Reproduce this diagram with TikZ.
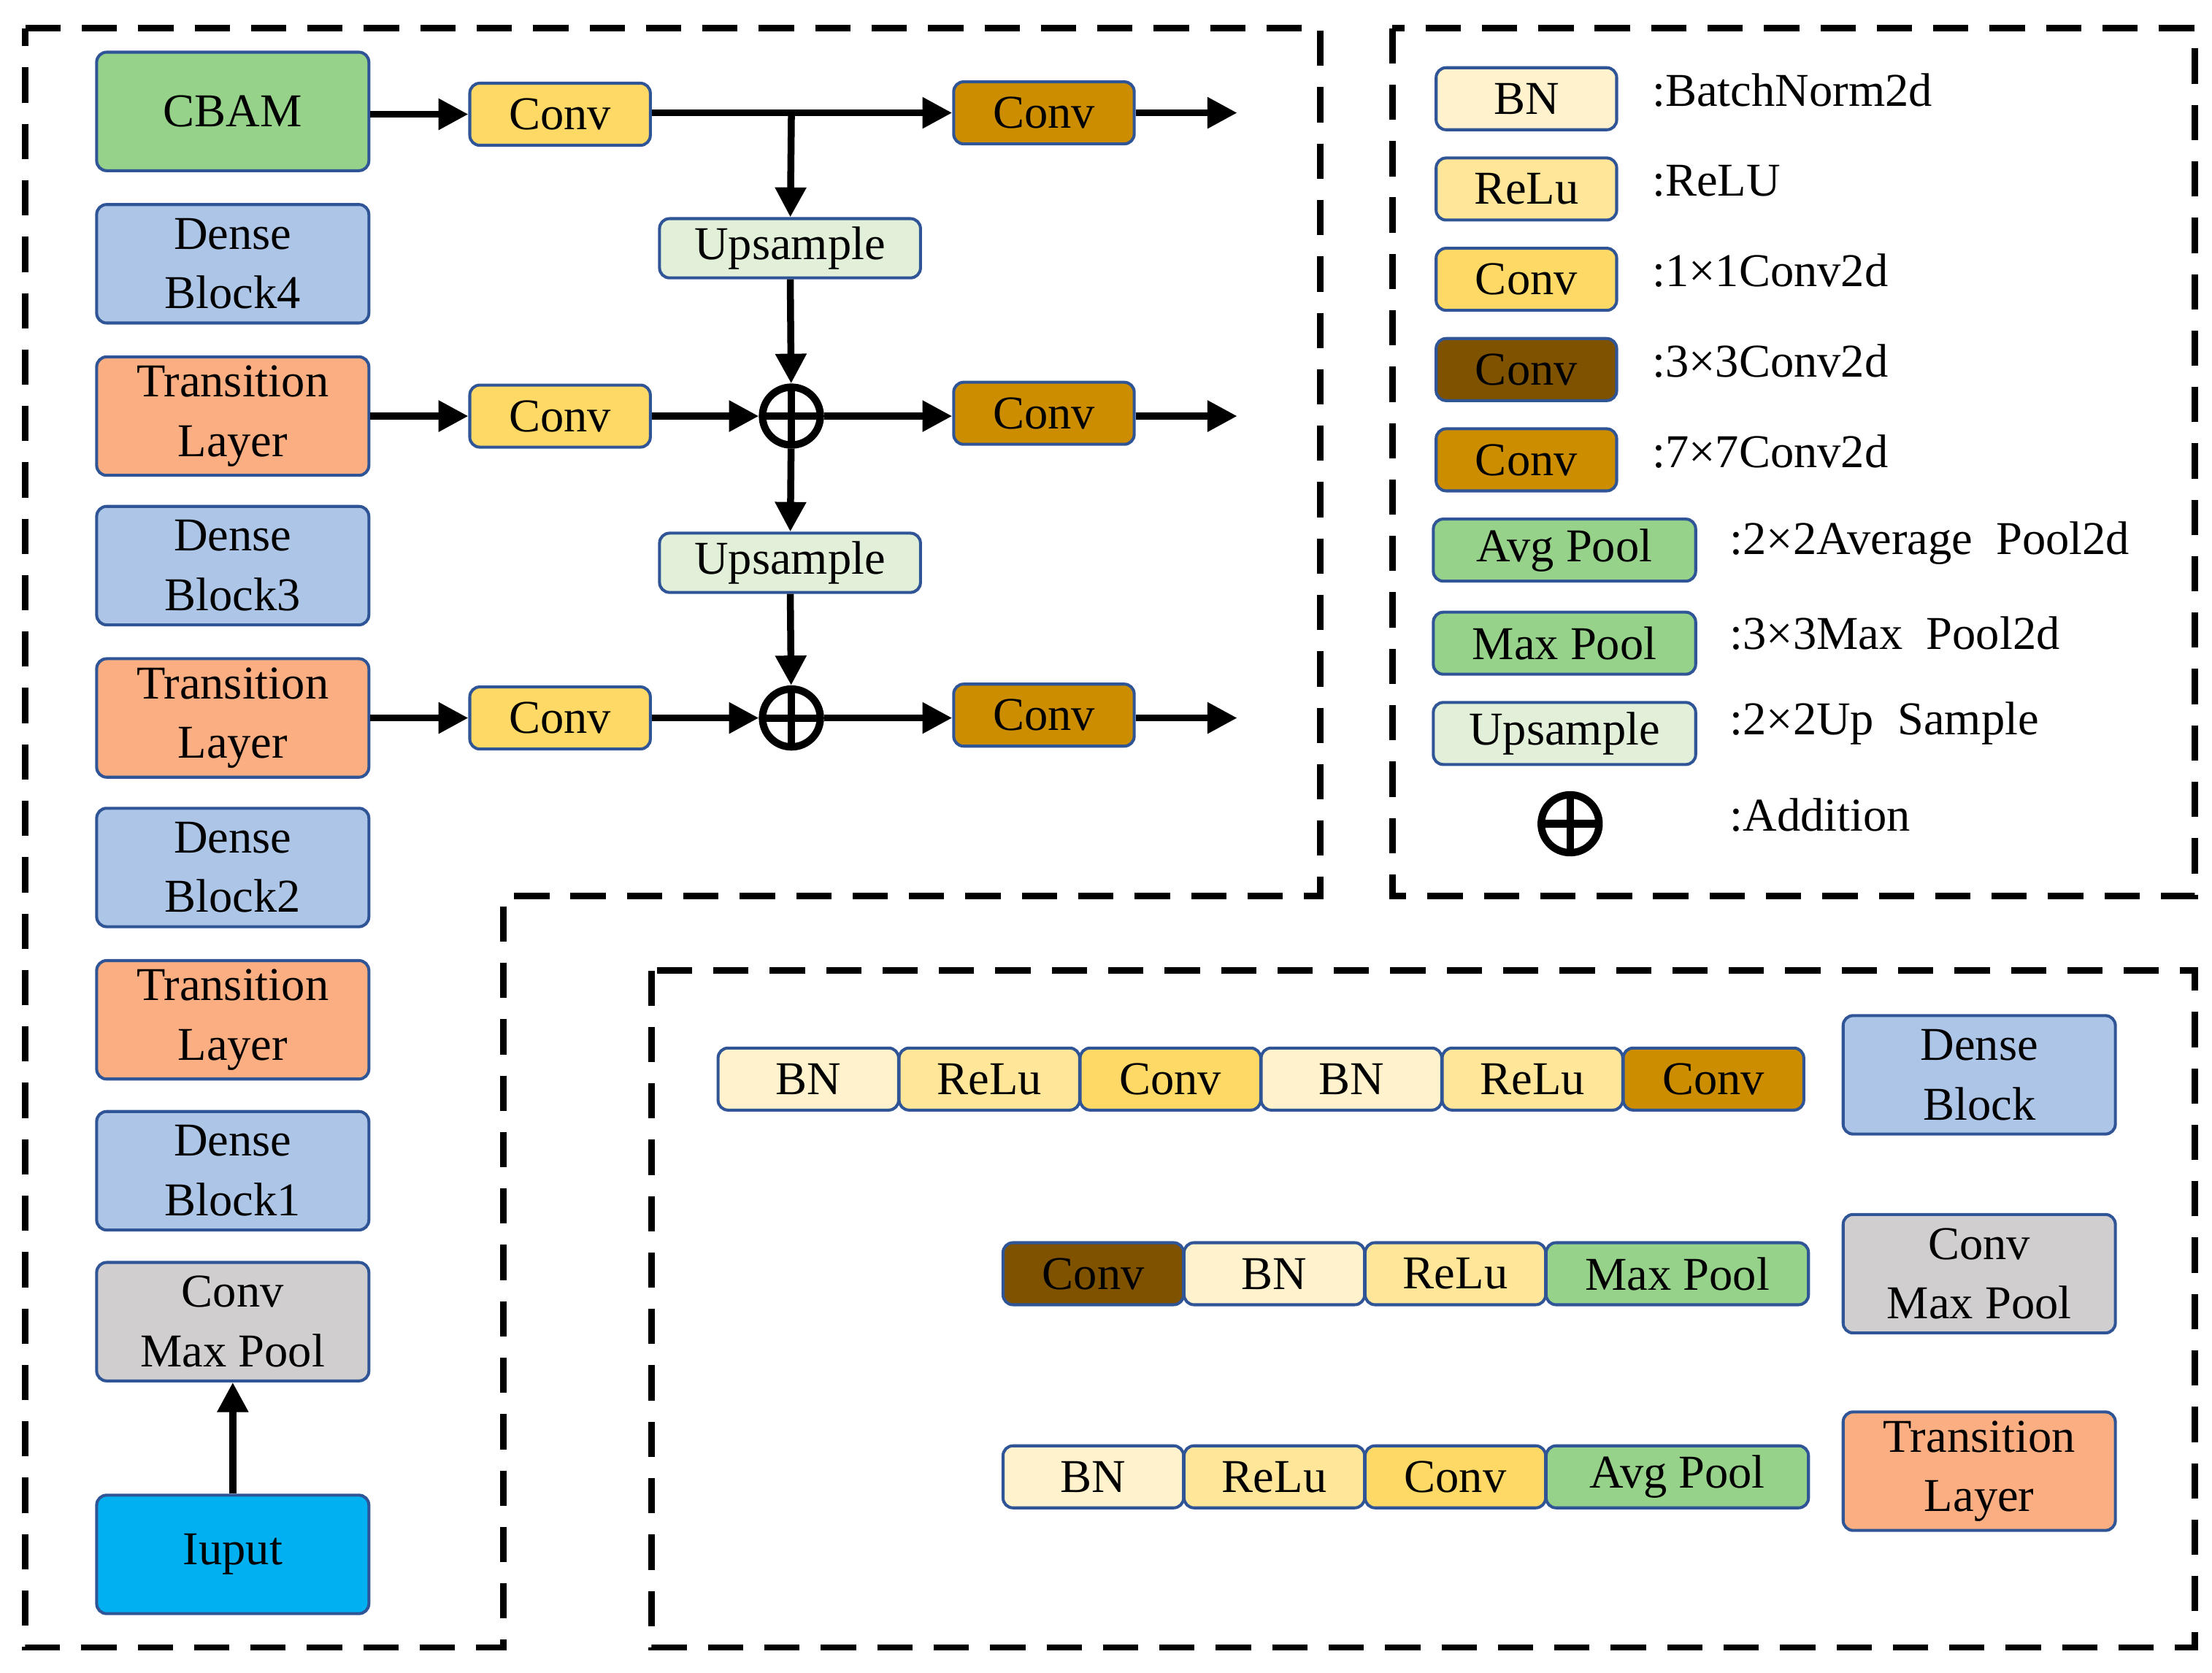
\documentclass[tikz,border=0pt]{standalone}
\usepackage{fontspec}
\setmainfont{Liberation Serif}
\usetikzlibrary{positioning,arrows.meta}
\definecolor{cbn}{HTML}{FFF2CC}
\definecolor{crelu}{HTML}{FFE699}
\definecolor{cconv}{HTML}{FFD966}
\definecolor{cdark}{HTML}{7F5200}
\definecolor{corg}{HTML}{CC8E00}
\definecolor{cgreen}{HTML}{97D28B}
\definecolor{cblue}{HTML}{ADC6E8}
\definecolor{ctrans}{HTML}{FBAE82}
\definecolor{cgray}{HTML}{D0CECE}
\definecolor{cup}{HTML}{E2F0D9}
\definecolor{ccyan}{HTML}{00B0F0}
\definecolor{cedge}{HTML}{2F5597}
\tikzset{
  box/.style={draw=cedge, line width=1.2pt, rounded corners=4pt, align=center,
    inner sep=0pt, font=\fontsize{19}{24}\selectfont},
  big/.style={box, minimum width=3.86cm, minimum height=1.68cm},
  small/.style={box, minimum width=2.56cm, minimum height=0.88cm},
  wide/.style={box, minimum width=3.72cm, minimum height=0.88cm},
  upbox/.style={box, fill=cup, minimum width=3.7cm, minimum height=0.84cm},
  arr/.style={line width=2.8pt, -{Triangle[length=12pt,width=12pt]}},
  plus/.style={circle, draw, line width=3pt, minimum size=0.82cm, inner sep=0pt,
    path picture={\draw[line width=3pt] (path picture bounding box.north) -- (path picture bounding box.south)
      (path picture bounding box.west) -- (path picture bounding box.east);}},
  frame/.style={line width=2.6pt, dash pattern=on 0.5cm off 0.3cm},
  lab/.style={anchor=west, font=\fontsize{19}{24}\selectfont}
}
\begin{document}
\begin{tikzpicture}[x=0.02cm,y=-0.02cm]
\useasboundingbox (0,0) rectangle (1568,1186);
% frames
\draw[frame] (18,20) -- (936,20) -- (936,635) -- (357,635) -- (357,1168) -- (18,1168) -- cycle;
\draw[frame] (987,20) rectangle (1556,635);
\draw[frame] (462,688) rectangle (1556,1168);
% backbone
\node[big, fill=cgreen] (cbam) at (165,79) {CBAM};
\node[big, fill=cblue] (db4) at (165,187) {Dense\\Block4};
\node[big, fill=ctrans] (tl3) at (165,295) {Transition\\Layer};
\node[big, fill=cblue] (db3) at (165,401) {Dense\\Block3};
\node[big, fill=ctrans] (tl2) at (165,509) {Transition\\Layer};
\node[big, fill=cblue] (db2) at (165,615) {Dense\\Block2};
\node[big, fill=ctrans] (tl1) at (165,723) {Transition\\Layer};
\node[big, fill=cblue] (db1) at (165,830) {Dense\\Block1};
\node[big, fill=cgray] (cmp) at (165,937) {Conv\\Max Pool};
\node[big, fill=ccyan] (inp) at (165,1102) {Iuput};
\draw[arr] (inp) -- (cmp);
% pyramid
\node[small, fill=cconv] (c1) at (397,81) {Conv};
\node[small, fill=cconv] (c2) at (397,295) {Conv};
\node[small, fill=cconv] (c3) at (397,509) {Conv};
\node[upbox] (up1) at (560,176) {Upsample};
\node[upbox] (up2) at (560,399) {Upsample};
\node[plus] (add1) at (561,295) {};
\node[plus] (add2) at (561,509) {};
\node[small, fill=corg] (o1) at (740,80) {Conv};
\node[small, fill=corg] (o2) at (740,293) {Conv};
\node[small, fill=corg] (o3) at (740,507) {Conv};
\coordinate (e1) at (877,80);
\coordinate (e2) at (877,295);
\coordinate (e3) at (877,509);
\coordinate (br) at (561,80);
\draw[arr] (cbam.east |- c1) -- (c1);
\draw[arr] (c1.east |- o1) -- (o1);
\draw[arr] (br) -- (up1);
\draw[arr] (o1) -- (e1);
\draw[arr] (up1) -- (add1);
\draw[arr] (tl3.east |- c2) -- (c2);
\draw[arr] (c2) -- (add1);
\draw[arr] (add1) -- (add1 -| o2.west);
\draw[arr] (o2.east |- e2) -- (e2);
\draw[arr] (add1) -- (up2);
\draw[arr] (up2) -- (add2);
\draw[arr] (tl2.east |- c3) -- (c3);
\draw[arr] (c3) -- (add2);
\draw[arr] (add2) -- (add2 -| o3.west);
\draw[arr] (o3.east |- e3) -- (e3);
% legend
\node[small, fill=cbn] (lbn) at (1082,70) {BN};
\node[small, fill=crelu] (lrelu) at (1082,134) {ReLu};
\node[small, fill=cconv] (lconv) at (1082,198) {Conv};
\node[small, fill=cdark] (ldark) at (1082,262) {Conv};
\node[small, fill=corg] (lorg) at (1082,326) {Conv};
\node[wide, fill=cgreen] (lavg) at (1109,390) {Avg Pool};
\node[wide, fill=cgreen] (lmax) at (1109,456) {Max Pool};
\node[wide, fill=cup] (lup) at (1109,520) {Upsample};
\node[plus] (ladd) at (1113,584) {};
\node[lab] at (1165,64) {:BatchNorm2d};
\node[lab] at (1165,128) {:ReLU};
\node[lab] at (1165,192) {:1×1Conv2d};
\node[lab] at (1165,256) {:3×3Conv2d};
\node[lab] at (1165,320) {:7×7Conv2d};
\node[lab] at (1220,385) {:2×2Average~~Pool2d};
\node[lab] at (1220,449) {:3×3Max~~Pool2d};
\node[lab] at (1220,513) {:2×2Up~~Sample};
\node[lab] at (1220,578) {:Addition};
% block contents
\node[small, fill=cbn] (a1) at (573,765) {BN};
\node[small, fill=crelu, right=-1pt of a1] (a2) {ReLu};
\node[small, fill=cconv, right=-1pt of a2] (a3) {Conv};
\node[small, fill=cbn, right=-1pt of a3] (a4) {BN};
\node[small, fill=crelu, right=-1pt of a4] (a5) {ReLu};
\node[small, fill=corg, right=-1pt of a5] (a6) {Conv};
\node[big, fill=cblue] (kdb) at (1403,762) {Dense\\Block};
\node[small, fill=cdark] (b1) at (775,903) {Conv};
\node[small, fill=cbn, right=-1pt of b1] (b2) {BN};
\node[small, fill=crelu, right=-1pt of b2] (b3) {ReLu};
\node[wide, fill=cgreen, right=-1pt of b3] (b4) {Max Pool};
\node[big, fill=cgray] (kcmp) at (1403,903) {Conv\\Max Pool};
\node[small, fill=cbn] (t1) at (775,1047) {BN};
\node[small, fill=crelu, right=-1pt of t1] (t2) {ReLu};
\node[small, fill=cconv, right=-1pt of t2] (t3) {Conv};
\node[wide, fill=cgreen, right=-1pt of t3] (t4) {Avg Pool};
\node[big, fill=ctrans] (ktl) at (1403,1043) {Transition\\Layer};
\end{tikzpicture}
\end{document}
